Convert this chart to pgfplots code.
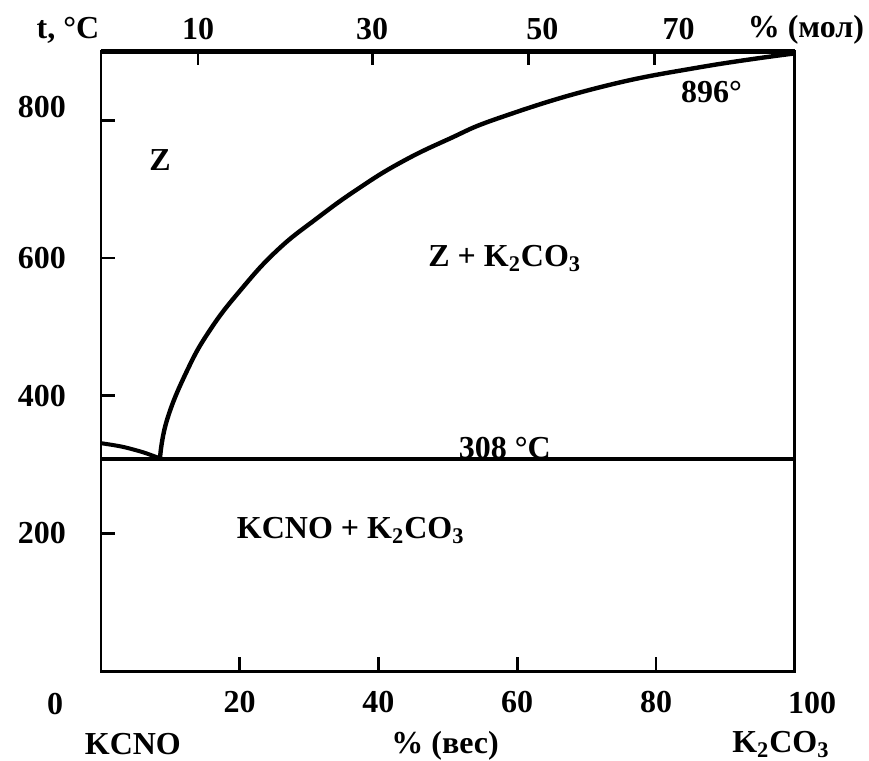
\documentclass[border=0pt]{standalone}
\usepackage{fontspec}
\setmainfont{Liberation Serif}
\usepackage{pgfplots}
\pgfplotsset{compat=1.18}
\begin{document}
\begin{tikzpicture}[font=\fontsize{16}{19}\selectfont\bfseries]
\begin{axis}[
  scale only axis, width=347pt, height=310pt,
  xmin=0, xmax=100, ymin=0, ymax=900,
  clip=false,
  axis line style={line width=1.4pt},
  xtick={20,40,60,80}, ytick={200,400,600,800},
  yticklabels={\raisebox{-8pt}{200}, \raisebox{-5pt}{400}, 600, \raisebox{13pt}{800}},
  xtick pos=bottom, ytick pos=left,
  tick align=inside, major tick length=7pt,
  tick style={line width=1.4pt, black},
  /pgf/number format/assume math mode=true,
  xticklabel style={yshift=-6.5pt},
  yticklabel style={xshift=-14pt},
]
\addplot[line width=1.6pt, black] coordinates {(0,308) (100,308)};
\addplot[line width=2.2pt, black, smooth, tension=0.75] coordinates {
 (8.5,308) (9.5,364) (12.4,436) (15.7,495) (20.1,553) (25.4,611) (31.2,658)
 (37,700) (43.1,738) (50,772) (57.6,804) (72.0,848) (86.4,877) (100,897)};
\addplot[line width=2pt, black, smooth] coordinates {(0,331) (3,326) (6,318) (8.5,309)};
\node at (axis cs:-4.75,931) {t, °C};
\node at (axis cs:8.5,742) {Z};
\node at (axis cs:58.2,599) {Z + K\textsubscript{2}CO\textsubscript{3}};
\node at (axis cs:88,841) {896°};
\node[anchor=south, inner sep=0pt] at (axis cs:58.2,307) {308 °C};
\node at (axis cs:36,204) {KCNO + K\textsubscript{2}CO\textsubscript{3}};
\node at (axis cs:4.6,-106) {KCNO};
\node at (axis cs:49.6,-109) {\% (вес)};
\node at (axis cs:98,-106) {K\textsubscript{2}CO\textsubscript{3}};
\node at (axis cs:-6.6,-48) {0};
\node at (axis cs:102.5,-46) {100};
\node at (axis cs:101.6,931) {\% (мол)};
\coordinate (bl) at (axis cs:-14.55,-129.5);
\coordinate (tr) at (axis cs:110.7,974.5);
\end{axis}
\begin{axis}[
  scale only axis, width=347pt, height=310pt,
  xmin=0, xmax=100, ymin=0, ymax=900,
  axis x line*=top, axis y line=none,
  x axis line style={-, line width=2.4pt},
  xtick={14,39.1,61.6,79.8},
  xticklabels={10\hspace{8pt}, 30, \hspace{14pt}50, \hspace{24pt}70},
  xticklabel style={yshift=2pt},
  tick align=inside, major tick length=7pt,
  tick style={line width=1.4pt, black},
]
\end{axis}
\pgfresetboundingbox
\path[use as bounding box] (bl) rectangle (tr);
\end{tikzpicture}
\end{document}
